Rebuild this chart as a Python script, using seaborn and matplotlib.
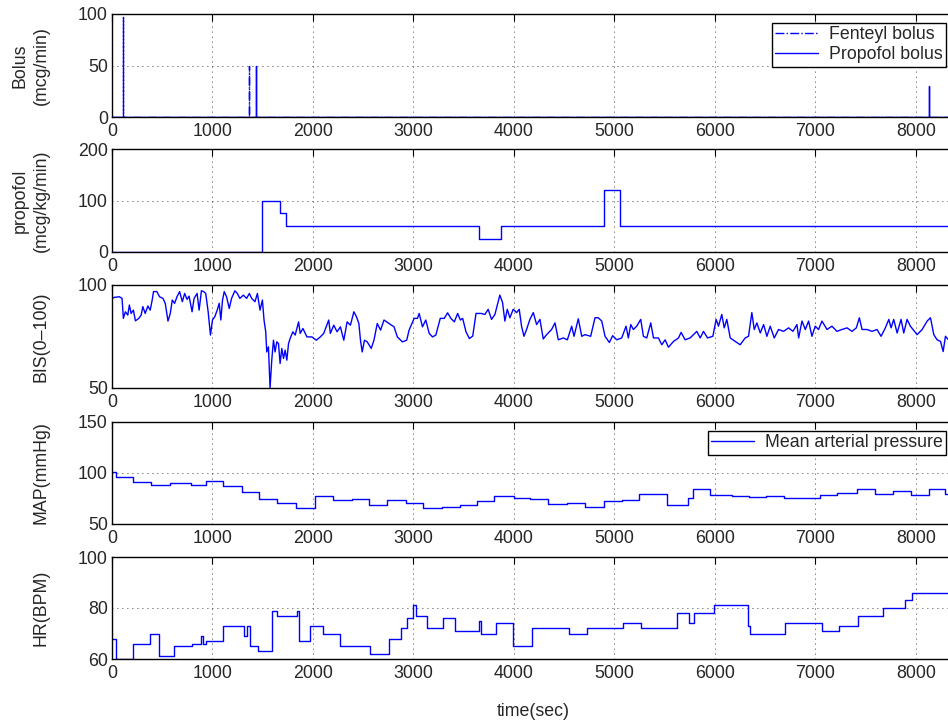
#!/usr/bin/env python3
"""
Anesthesia session: boluses, propofol infusion, BIS, MAP and HR over time
"""

import numpy as np
import pandas as pd
import matplotlib
matplotlib.use('Agg')
import matplotlib.pyplot as plt
import seaborn as sns

sns.set_style("white")
plt.rcParams['font.family'] = ['Liberation Sans', 'DejaVu Sans']
FS = 12.8
plt.rcParams['font.size'] = FS

T_END = 8390

# Boluses (time in sec, dose in mcg/min)
fent_times = [110, 1363]
fent_doses = [97, 50]
prop_bolus_times = [1433, 8129]
prop_bolus_doses = [50, 30]

# Propofol infusion (change points, mcg/kg/min)
prop_t = [0, 1490, 1675, 1730, 3655, 3870, 4895, 5055, T_END]
prop_rate = [0, 100, 75, 50, 25, 50, 120, 50, 50]

# BIS (0-100)
bis_t = [0, 23, 73, 100, 113, 133, 157, 173, 190, 213,
         233, 267, 290, 307, 330, 357, 380, 400, 413, 447,
         473, 507, 530, 557, 580, 600, 623, 647, 673, 700,
         723, 747, 767, 797, 817, 847, 867, 890, 913, 933,
         957, 980, 1000, 1023, 1047, 1067, 1083, 1100, 1117, 1140,
         1167, 1190, 1223, 1247, 1273, 1307, 1340, 1367, 1390, 1423,
         1447, 1473, 1497, 1513, 1530, 1540, 1557, 1573, 1590, 1607,
         1623, 1640, 1657, 1673, 1690, 1707, 1723, 1740, 1757, 1773,
         1800, 1823, 1857, 1873, 1900, 1940, 1990, 2033, 2073, 2107,
         2157, 2173, 2207, 2240, 2273, 2307, 2340, 2373, 2407, 2433,
         2457, 2473, 2490, 2513, 2540, 2580, 2607, 2640, 2673, 2707,
         2757, 2807, 2840, 2890, 2933, 2957, 3007, 3040, 3057, 3090,
         3123, 3157, 3190, 3223, 3267, 3307, 3340, 3373, 3407, 3440,
         3467, 3490, 3523, 3557, 3590, 3623, 3673,
         3711, 3744, 3777, 3811, 3860, 3887, 3910, 3934, 3960, 3993,
         4027, 4053, 4076, 4100, 4126, 4159, 4193, 4226, 4259, 4292,
         4326, 4375, 4409, 4442, 4492, 4532, 4575, 4598, 4641, 4675,
         4708, 4764, 4807, 4840, 4874, 4907, 4950, 4983, 5023, 5073,
         5116, 5139, 5163, 5189, 5222, 5262, 5289, 5322, 5362, 5389,
         5438, 5472, 5505, 5538, 5588, 5638, 5664, 5704, 5754, 5820,
         5854, 5887, 5927, 5980, 6013, 6036, 6069, 6093, 6119, 6153,
         6203, 6252, 6302, 6335, 6368, 6392, 6418, 6452, 6485, 6518,
         6551, 6591, 6634, 6684, 6734, 6777, 6817, 6834, 6867, 6900,
         6933, 6966, 6999, 7032, 7066, 7116, 7165, 7215, 7265, 7315,
         7365, 7408, 7438, 7465, 7514, 7564, 7614, 7654, 7697, 7731,
         7754, 7780, 7814, 7853, 7880, 7913, 7946, 7986, 8013, 8063,
         8113, 8146, 8179, 8212, 8246, 8272, 8295, 8325, 8390]
bis_v = [93.5, 94.0, 94.3, 93.5, 83.8, 87.0, 85.4, 90.3, 86.2, 87.8,
         82.6, 83.8, 85.4, 89.5, 86.2, 89.8, 87.8, 92.7, 96.8, 96.8,
         94.3, 93.5, 91.1, 82.5, 86.2, 92.7, 91.1, 94.3, 96.8, 91.9,
         95.9, 93.0, 94.6, 87.0, 93.5, 95.9, 87.8, 97.2, 96.8, 95.9,
         87.0, 75.7, 83.0, 84.6, 87.8, 91.1, 83.0, 92.7, 96.8, 94.3,
         88.6, 93.5, 97.2, 95.9, 93.5, 95.1, 93.5, 95.9, 93.5, 91.9,
         95.9, 87.8, 92.7, 83.0, 77.3, 67.5, 70.0, 50.0, 63.5, 73.2,
         67.5, 72.4, 71.6, 61.9, 69.2, 64.3, 68.4, 63.5, 71.6, 74.0,
         77.3, 75.7, 82.1, 76.5, 78.9, 74.8, 74.8, 73.2, 74.8, 76.5,
         83.0, 76.5, 80.5, 77.3, 79.7, 73.2, 82.1, 80.5, 87.0, 84.6,
         81.3, 73.2, 67.5, 73.2, 72.4, 69.2, 73.2, 81.3, 78.1, 83.0,
         81.3, 79.7, 74.8, 72.4, 73.2, 78.1, 83.8, 83.8, 86.2, 79.7,
         83.0, 76.5, 74.8, 75.7, 83.8, 83.8, 86.5, 83.8, 82.1, 86.2,
         83.0, 83.8, 77.3, 74.0, 75.2, 86.2, 86.2,
         85.7, 88.2, 83.3, 85.7, 95.1, 91.5, 82.5, 88.2, 84.1, 88.2,
         86.6, 88.2, 80.0, 75.1, 78.4, 83.3, 86.6, 80.8, 83.3, 73.8,
         75.9, 78.4, 81.6, 73.4, 74.3, 73.4, 80.0, 75.1, 83.6, 75.1,
         75.9, 75.1, 84.1, 84.1, 82.5, 75.1, 72.1, 75.4, 73.4, 74.3,
         80.0, 74.3, 80.8, 78.4, 80.0, 83.3, 75.1, 74.3, 81.6, 74.3,
         74.3, 71.0, 73.4, 69.8, 72.6, 74.3, 77.0, 73.4, 74.3, 77.5,
         74.3, 77.5, 74.3, 75.1, 83.3, 80.0, 85.7, 79.2, 83.3, 74.3,
         72.6, 71.0, 74.3, 75.1, 86.6, 78.4, 81.6, 76.7, 80.8, 75.1,
         80.0, 74.3, 78.4, 77.5, 79.2, 77.5, 80.8, 74.3, 82.5, 78.4,
         82.5, 75.1, 80.0, 78.4, 82.5, 78.4, 80.0, 77.5, 78.4, 79.2,
         77.5, 79.2, 84.1, 78.4, 78.4, 77.5, 78.4, 75.1, 79.2, 83.3,
         79.2, 83.3, 76.7, 83.3, 76.7, 83.3, 80.0, 77.5, 75.9, 78.4,
         82.5, 84.1, 75.9, 73.4, 72.6, 67.7, 75.1, 73.4, 72.0]

# Mean arterial pressure (change points, mmHg)
map_t = [0, 40, 207, 390, 573, 790, 933, 1107, 1290, 1467,
         1647, 1830, 2023, 2200, 2390, 2557, 2740, 2923, 3100, 3280,
         3467, 3630, 3800, 4000, 4160, 4342, 4525, 4708, 4897, 5073,
         5249, 5521, 5737, 5787, 5953, 6169, 6335, 6511, 6691, 7050,
         7216, 7415, 7598, 7774, 7953, 8129, 8295, T_END]
map_v = [101, 96, 91, 88, 90, 88, 92, 87.5, 81, 75,
         71, 66, 77.5, 73.5, 75, 69, 73.5, 71, 66, 67,
         69, 72.5, 77.5, 75.5, 74.5, 69.3, 70.3, 67, 72.5, 73.5,
         79.4, 68.3, 75.2, 84, 78.4, 77.5, 76.1, 77.5, 75.2, 78.4,
         80.1, 84, 79.1, 82.7, 78.4, 84, 79.4, 79.4]

# Heart rate (change points, BPM)
hr_t = [0, 40, 207, 380, 467, 613, 800, 890, 907, 940,
        1107, 1313, 1340, 1373, 1457, 1590, 1640, 1840, 1857, 1973,
        2100, 2273, 2567, 2757, 2873, 2940, 2995, 3023, 3140, 3297,
        3417, 3654, 3677, 3817, 3993, 4179, 4545, 4724, 5090, 5262,
        5621, 5747, 5794, 5987, 6325, 6352, 6701, 7066, 7239, 7425,
        7674, 7890, 7963, T_END]
hr_v = [68, 60, 66, 70, 61, 65, 66, 69, 66, 67,
        73, 69, 73, 65, 63, 79, 77, 79, 67, 73,
        70, 65, 62, 68, 72, 76, 81, 77, 72, 76,
        71, 75, 70, 74, 65, 72, 70, 72, 74, 72,
        78, 74, 78, 81, 73, 70, 74, 71, 73, 77,
        80, 83, 86, 86]


def spikes(times, doses, end):
    """Turn bolus events into a spike trace on a zero baseline"""
    xs, ys = [0], [0]
    for t, d in zip(times, doses):
        xs += [t, t, t]
        ys += [0, d, 0]
    xs.append(end)
    ys.append(0)
    return pd.DataFrame({'t': xs, 'v': ys})


def style_axes(ax, ylim, yticks, ylabel):
    ax.set_xlim(0, T_END)
    ax.set_ylim(*ylim)
    ax.set_xticks(np.arange(0, 9000, 1000))
    ax.set_yticks(yticks)
    ax.set_xlabel('')
    ax.set_ylabel(ylabel, fontsize=FS, linespacing=1.3)
    ax.yaxis.set_label_coords(-0.074, 0.5)
    ax.grid(True, color='black', linestyle=(0, (1, 5)), linewidth=0.6)
    ax.tick_params(direction='in', top=True, right=True, length=5,
                   width=0.8, labelsize=FS, color='black')
    ax.tick_params(axis='x', pad=4)
    ax.tick_params(axis='y', pad=3)
    for sp in ax.spines.values():
        sp.set_visible(True)
        sp.set_color('black')
        sp.set_linewidth(1.0)


def add_legend(ax, spacing):
    leg = ax.legend(loc='upper right', fontsize=FS, frameon=True, fancybox=False,
                    framealpha=1, edgecolor='black', borderaxespad=0.5,
                    handlelength=2.4, borderpad=0.2, labelspacing=spacing,
                    handletextpad=0.6)
    leg.get_frame().set_linewidth(1.0)


fig = plt.figure(figsize=(9.48, 7.23), dpi=100)
H = 723.0
left = 112 / 948.0
width = (955 - 112) / 948.0
rows = [(14, 117), (149, 252), (285, 388), (422, 524), (557, 659)]
axes = [fig.add_axes([left, 1 - b / H, width, (b - t) / H]) for t, b in rows]

blue = (0, 0, 1)
line_kw = dict(color=blue, linewidth=1.0, estimator=None, sort=False)

# 1. Boluses
ax = axes[0]
sns.lineplot(data=spikes(fent_times, fent_doses, T_END), x='t', y='v', ax=ax,
             linestyle='-.', label='Fenteyl bolus', **line_kw)
sns.lineplot(data=spikes(prop_bolus_times, prop_bolus_doses, T_END), x='t', y='v',
             ax=ax, linestyle='-', label='Propofol bolus', **line_kw)
style_axes(ax, (0, 100), [0, 50, 100], 'Bolus\n(mcg/min)')
add_legend(ax, 0.15)

# 2. Propofol infusion
ax = axes[1]
sns.lineplot(x=prop_t, y=prop_rate, ax=ax, drawstyle='steps-post', **line_kw)
style_axes(ax, (0, 200), [0, 100, 200], 'propofol\n(mcg/kg/min)')

# 3. BIS
ax = axes[2]
sns.lineplot(x=bis_t, y=bis_v, ax=ax, **line_kw)
style_axes(ax, (50, 100), [50, 100], 'BIS(0\u2013100)')

# 4. MAP
ax = axes[3]
sns.lineplot(x=map_t, y=map_v, ax=ax, drawstyle='steps-post',
             label='Mean arterial pressure', **line_kw)
style_axes(ax, (50, 150), [50, 100, 150], 'MAP(mmHg)')
add_legend(ax, 0.15)

# 5. HR
ax = axes[4]
sns.lineplot(x=hr_t, y=hr_v, ax=ax, drawstyle='steps-post', **line_kw)
style_axes(ax, (60, 100), [60, 80, 100], 'HR(BPM)')

fig.text(533 / 948.0, 1 - 712 / H, 'time(sec)', ha='center', va='center',
         fontsize=FS)

plt.savefig('out.png', dpi=100)
plt.close()
